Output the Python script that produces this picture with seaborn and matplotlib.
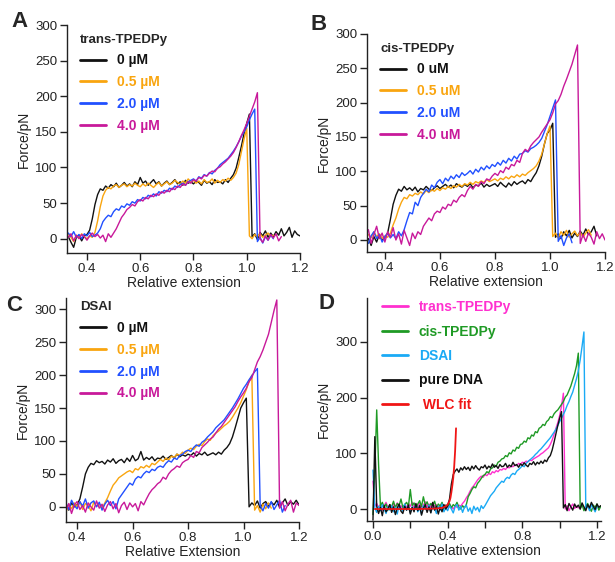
import matplotlib
matplotlib.use("Agg")
import matplotlib.pyplot as plt
import numpy as np
import seaborn as sns
from matplotlib.ticker import FormatStrFormatter, MultipleLocator

# ---- data (force in pN on a 0.01 relative-extension grid) ----
A_X = np.round(np.arange(0.33, 1.2051, 0.01), 2)
A_0UM = [3, -5, -12, 2, 5, -3, 4,
         6, 12, 28, 48, 62, 70, 68, 74, 71, 76,
         73, 78, 72, 75, 79, 74, 77, 73, 80, 76,
         86, 78, 81, 75, 79, 83, 77, 80, 74, 78,
         81, 76, 79, 83, 77, 80, 75, 82, 78, 80,
         77, 81, 79, 75, 82, 78, 80, 76, 83, 79,
         80, 77, 83, 79, 85, 90, 99, 114, 130, 148,
         162, 175, 3, 7, -1, 9, 4, 11, 2, 8,
         3, 10, 5, 14, 4, 9, 16, 2, 11, 6, 4]
A_05UM = [6, 2, -4, 5, 1, 7, 3,
          0, 4, 2, 9, 25, 45, 60, 68, 72, 70,
          74, 76, 72, 75, 77, 73, 76, 74, 78, 75,
          73, 77, 74, 78, 75, 72, 76, 79, 74, 77,
          80, 76, 78, 82, 79, 77, 81, 78, 84, 80,
          82, 78, 81, 77, 83, 79, 80, 84, 78, 82,
          79, 83, 81, 85, 82, 86, 92, 104, 122, 140,
          155, 4, 0, 6, 3, 7, 2, 5, 8, 3,
          5]
A_2UM = [8, 3, 10, 2, 6, 0, 7,
         4, 9, 3, 5, 8, 14, 24, 29, 33, 31,
         38, 42, 40, 46, 44, 49, 47, 52, 50, 55,
         53, 58, 56, 61, 59, 63, 60, 66, 64, 68,
         66, 71, 69, 74, 72, 76, 78, 75, 80, 82,
         84, 81, 87, 85, 90, 88, 93, 91, 96, 99,
         104, 107, 110, 113, 118, 123, 129, 136, 144, 150,
         157, 167, 175, 182, -4, 2, -6, 3, -2, 5,
         0]
A_4UM = [2, 7, -3, 5, 0, 6, 3,
         -2, 4, 8, 3, 6, 1, 5, -4, 7, 2,
         8, 14, 22, 30, 35, 41, 44, 48, 46, 52,
         55, 53, 58, 56, 61, 59, 63, 61, 66, 64,
         68, 66, 71, 69, 74, 72, 77, 75, 80, 78,
         83, 81, 86, 84, 89, 88, 92, 95, 94, 99,
         101, 105, 108, 112, 116, 121, 128, 136, 145, 153,
         162, 172, 182, 192, 205, 0, -5, 4, -2, 6,
         1, 7, -3, 3]

B_X = np.round(np.arange(0.34, 1.2051, 0.01), 2)
B_0UM = [2, -8, 5, -3, 8, 0,
         4, 10, 30, 52, 65, 74, 71, 78, 73, 76,
         72, 77, 70, 75, 73, 78, 74, 72, 76, 79,
         75, 78, 81, 77, 80, 76, 82, 79, 77, 81,
         78, 82, 76, 80, 79, 83, 77, 81, 78, 80,
         82, 78, 84, 80, 77, 83, 79, 85, 81, 84,
         86, 82, 88, 85, 92, 98, 108, 122, 140, 155,
         160, 170, 4, 9, 2, 12, 6, 14, 3, 10,
         5, 13, 7, 16, 8, 12, 20, 6]
B_05UM = [8, 3, 12, 5, 9, 2,
          6, 4, 10, 22, 32, 45, 55, 62, 60, 66,
          64, 68, 66, 70, 67, 72, 69, 73, 71, 75,
          72, 76, 74, 78, 75, 79, 77, 81, 78, 82,
          80, 84, 81, 85, 83, 86, 84, 88, 85, 87,
          89, 86, 90, 88, 92, 89, 93, 91, 95, 92,
          96, 94, 98, 101, 104, 108, 115, 125, 140, 155,
          166, 5, 10, 3, 12, 7, 14, 4, 9, 13,
          6, 11, 4, 10, 15, 7]
B_2UM = [-5, 6, 12, 2, 8, -3,
         5, 10, 3, 8, 2, 12, 6, 15, 28, 40,
         38, 55, 50, 62, 68, 74, 70, 80, 76, 84,
         88, 82, 90, 86, 93, 89, 95, 91, 98, 94,
         97, 101, 96, 103, 99, 106, 102, 108, 104, 110,
         107, 113, 109, 116, 112, 119, 115, 122, 118, 125,
         126, 130, 128, 133, 135, 138, 142, 148, 158, 168,
         180, 192, 204, -2, 6, -8, 3, 9, -4]
B_4UM = [15, -5, 8, 20, 2, 10,
         -3, 12, 4, 18, 0, 9, -6, 14, 3, -8,
         10, 2, 12, 8, 20, 26, 32, 28, 38, 42,
         40, 48, 45, 52, 50, 58, 55, 62, 66, 63,
         72, 78, 74, 81, 78, 85, 82, 89, 87, 93,
         97, 94, 101, 98, 106, 103, 110, 108, 116, 113,
         126, 132, 129, 137, 142, 146, 150, 157, 163, 169,
         175, 185, 198, 203, 212, 224, 234, 245, 256, 270,
         284, -5, 8, -2, 10, 4, -6, 12, 2, 9, 0]

C_X = np.round(np.arange(0.36, 1.2051, 0.01), 2)
C_0UM = [2, -5, 6, 0,
         3, 12, 30, 50, 60, 66, 64, 70, 67, 69,
         65, 71, 68, 73, 66, 70, 72, 67, 74, 69,
         78, 70, 73, 84, 71, 75, 72, 76, 70, 74,
         73, 77, 72, 75, 78, 74, 80, 76, 79, 77,
         80, 78, 82, 77, 81, 79, 83, 78, 80, 82,
         79, 83, 80, 86, 90, 96, 106, 120, 135, 150,
         158, 165, 0, 6, 2, 9, -2, 5, 8, 1,
         7, 3, 10, -1, 6, 12, 2, 8, 4, 10, 3]
C_05UM = [-8, 4, -3, 6,
          0, 8, -4, 5, 2, -6, 7, 1, 4, -2,
          6, 14, 24, 33, 38, 44, 47, 50, 53, 55,
          52, 58, 56, 61, 59, 63, 60, 66, 64, 68,
          72, 69, 74, 71, 77, 75, 80, 78, 83, 81,
          86, 89, 87, 92, 95, 93, 99, 103, 101, 108,
          112, 115, 119, 123, 126, 130, 136, 143, 150, 158,
          168, 178, 190, 200, -5, 2, -8, 4, -3, 6,
          -2]
C_2UM = [6, -4, 10, 2,
         -3, 8, 1, 12, -2, 6, 9, 0, 7, -5,
         4, 10, 2, 8, -3, 12, 18, 24, 30, 36,
         33, 42, 46, 44, 50, 54, 52, 57, 55, 60,
         62, 60, 66, 70, 68, 74, 72, 78, 80, 84,
         86, 84, 90, 94, 92, 98, 101, 106, 110, 114,
         120, 124, 128, 132, 138, 144, 150, 157, 164, 172,
         180, 186, 193, 199, 205, 210, 2, -6, 5, -2,
         8, -4, 3, 10, -8, 2]
C_4UM = [-6, 5, -10, 3,
         8, -4, 2, -8, 6, 0, -5, 9, -2, 4,
         -7, 3, 8, -3, 5, -9, 2, 7, -4, 6,
         0, 5, -6, 8, 3, 12, 20, 26, 30, 35,
         38, 45, 42, 50, 55, 58, 62, 60, 67, 70,
         72, 78, 75, 84, 82, 90, 94, 98, 103, 106,
         112, 118, 122, 128, 134, 140, 146, 152, 160, 167,
         173, 180, 190, 196, 208, 220, 228, 238, 250, 262,
         280, 298, 314, -2, 8, -6, 4, 10, -8, 6, 2]

D_X = np.round(np.arange(0.0, 1.2251, 0.01), 2)
D_TRANS = [50, 5, 10, 2, 8, -2, 6, 12, 3, 7,
           0, 9, 4, 11, 2, 6, -1, 8, 3, 10,
           5, 12, 1, 8, 4, 10, 0, 7, 13, 3,
           9, 2, 11, 5, 8, 1, 6, 10, 3, 7,
           2, 8, 4, 0, 6, 3, 7, 5, 10, 14,
           20, 25, 32, 38, 42, 47, 52, 56, 59, 57,
           62, 60, 64, 62, 67, 65, 69, 67, 71, 70,
           73, 71, 75, 74, 77, 76, 79, 78, 82, 80,
           84, 83, 86, 85, 88, 87, 90, 92, 94, 96,
           99, 101, 104, 107, 110, 116, 124, 134, 145, 155,
           168, 185, 208, 0, 6, -3, 4, 9, 1, 5,
           2]
D_CIS = [-10, 70, 178, 80, 5, 12, 3, 9, -2, 8,
         4, 14, 2, 10, 6, 18, 3, 8, 12, 5,
         35, 6, 11, 2, 9, 15, 4, 22, 7, 13,
         3, 10, 6, 14, 2, 9, 5, 12, 1, 7,
         4, 10, 2, 8, 5, 12, 3, 0, 6, 2,
         8, 22, 28, 35, 40, 38, 46, 50, 55, 60,
         62, 67, 65, 72, 74, 79, 77, 84, 86, 90,
         91, 96, 94, 101, 99, 106, 104, 111, 109, 116,
         117, 122, 120, 128, 126, 133, 131, 139, 137, 145,
         147, 152, 150, 157, 160, 166, 164, 171, 175, 178,
         183, 188, 193, 201, 205, 213, 221, 232, 243, 257,
         280, 0, 8, -3, 5, 10, 2, -4, 7, 3,
         9, -2, 5]
D_DSAI = [70, 2, -6, 5, -3, 8, 0, -8, 4, -2,
          6, -5, 3, -9, 7, 1, -4, 9, -2, 5,
          -7, 4, -1, 8, -5, 2, -9, 6, 0, -3,
          7, -6, 3, 1, -8, 5, -2, 9, -5, 2,
          -3, 6, 0, -7, 4, 8, -2, 5, -6, 3,
          7, -4, 2, -8, 5, -2, 3, -5, 6, 1,
          6, 12, 18, 24, 28, 32, 38, 42, 46, 50,
          48, 54, 57, 55, 61, 64, 62, 68, 71, 74,
          78, 76, 82, 85, 88, 91, 94, 98, 101, 105,
          108, 112, 116, 120, 124, 128, 133, 138, 143, 150,
          157, 163, 170, 177, 186, 193, 202, 210, 222, 234,
          248, 268, 292, 318, 0, 6, -3, 8, 2, -5,
          4]
D_DNA = [-20, 130, 5, -8, 3, -12, 6, -5, 0, 8,
         -6, 4, -10, 2, 9, -4, -8, 5, -2, 7,
         -9, 3, -5, 10, -3, 6, -11, 1, 8, -6,
         4, -7, 12, -2, 5, -9, 3, -5, 8, 0,
         6, 18, 45, 62, 68, 72, 66, 74, 70, 76,
         71, 75, 69, 77, 72, 78, 73, 70, 76, 74,
         79, 72, 77, 74, 81, 75, 78, 73, 80, 76,
         77, 82, 75, 79, 76, 84, 78, 80, 75, 81,
         78, 83, 79, 76, 82, 80, 85, 79, 84, 81,
         86, 82, 88, 85, 92, 96, 106, 120, 135, 150,
         163, 175, 2, 8, -3, 10, 4, -2, 9, 3,
         7, 0, 11, 4, -3, 8, 2, 12, 5, -1,
         9, 3, 6]
WLC_X = [0.01, 0.05, 0.10, 0.15, 0.20, 0.25, 0.30, 0.34, 0.37, 0.39, 0.40,
         0.41, 0.415, 0.42, 0.425, 0.43, 0.435, 0.44, 0.445]
WLC_Y = [0, 0, 0, 0, 0, 0, 0.5, 1, 2, 5, 8, 14, 20, 30, 42, 56, 76, 104, 145]

CONC_COLORS = ["#111111", "#f9a50f", "#2150ff", "#c8199a"]
MU_LABELS = ["0 \u00b5M", "0.5 \u00b5M", "2.0 \u00b5M", "4.0 \u00b5M"]
U_LABELS = ["0 uM", "0.5 uM", "2.0 uM", "4.0 uM"]
D_LABELS = ["trans-TPEDPy", "cis-TPEDPy", "DSAI", "pure DNA", " WLC fit"]
D_COLORS = ["#ff30cf", "#1f9a25", "#1aaaf5", "#111111", "#f01515"]

sns.set_theme(style="ticks")
plt.rcParams["font.family"] = ["Liberation Sans", "DejaVu Sans"]
plt.rcParams["axes.linewidth"] = 1.0
plt.rcParams["axes.edgecolor"] = "#222222"

W, H = 615, 562
fig = plt.figure(figsize=(W / 100, H / 100), dpi=100)


def px_axes(left, top, right, bottom):
    return fig.add_axes([left / W, 1 - bottom / H, (right - left) / W, (bottom - top) / H])


def style(ax, xlim, ylim, xlabel, xmajor, ymajor, xminor=None):
    ax.set_xlim(*xlim)
    ax.set_ylim(*ylim)
    ax.xaxis.set_major_locator(MultipleLocator(xmajor))
    ax.xaxis.set_major_formatter(FormatStrFormatter("%.1f"))
    ax.yaxis.set_major_locator(MultipleLocator(ymajor))
    if xminor:
        ax.xaxis.set_minor_locator(MultipleLocator(xminor))
    ax.spines[["top", "right"]].set_visible(False)
    ax.tick_params(which="both", direction="out", length=5, width=1, colors="#222222",
                   labelsize=9.5, labelcolor="#222222", pad=2)
    ax.set_xlabel(xlabel, fontsize=10, labelpad=1, color="#222222")
    ax.set_ylabel("Force/pN", fontsize=10, labelpad=3, color="#222222")


def add_legend(ax, anchor, title=None, spacing=0.56):
    leg = ax.legend(loc="upper left", bbox_to_anchor=anchor, frameon=False,
                    title=title, alignment="left",
                    title_fontproperties={"weight": "bold", "size": 9.5},
                    prop={"weight": "bold", "size": 10}, labelcolor="linecolor",
                    handlelength=1.9, handletextpad=0.75, labelspacing=spacing,
                    borderpad=0, borderaxespad=0)
    for ln in leg.get_lines():
        ln.set_linewidth(2.0)
    return leg


def conc_panel(ax, xs, curves, labels):
    for ys, col, lab in zip(curves, CONC_COLORS, labels):
        sns.lineplot(x=xs[:len(ys)], y=ys, color=col, linewidth=1.0, label=lab,
                     ax=ax, estimator=None, sort=False)


# A: trans-TPEDPy
ax_a = px_axes(67, 25, 300, 253)
conc_panel(ax_a, A_X, [A_0UM, A_05UM, A_2UM, A_4UM], MU_LABELS)
style(ax_a, (0.325, 1.2), (-20, 300), "Relative extension", 0.2, 50)
add_legend(ax_a, (0.056, 0.962), "trans-TPEDPy")

# B: cis-TPEDPy
ax_b = px_axes(367, 34, 605, 252)
conc_panel(ax_b, B_X, [B_0UM, B_05UM, B_2UM, B_4UM], U_LABELS)
style(ax_b, (0.335, 1.2), (-17.5, 300), "Relative extension", 0.2, 50)
add_legend(ax_b, (0.055, 0.96), "cis-TPEDPy")

# C: DSAI
ax_c = px_axes(66, 298, 299, 522)
conc_panel(ax_c, C_X, [C_0UM, C_05UM, C_2UM, C_4UM], MU_LABELS)
style(ax_c, (0.36, 1.2), (-23, 317), "Relative Extension", 0.2, 50)
add_legend(ax_c, (0.06, 0.985), "DSAI")

# D: comparison
ax_d = px_axes(367, 298, 601, 521)
for ys, col, lab in zip([D_TRANS, D_CIS, D_DSAI, D_DNA], D_COLORS[:4], D_LABELS[:4]):
    sns.lineplot(x=D_X[:len(ys)], y=ys, color=col, linewidth=1.0, label=lab,
                 ax=ax_d, estimator=None, sort=False)
sns.lineplot(x=WLC_X, y=WLC_Y, color=D_COLORS[4], linewidth=1.3, label=D_LABELS[4],
             ax=ax_d, estimator=None, sort=False)
style(ax_d, (-0.032, 1.2215), (-21.5, 379), "Relative extension", 0.4, 100, xminor=0.2)
add_legend(ax_d, (0.064, 0.99), None, spacing=0.75)

for lab, xp, yp in [("A", 11, 11), ("B", 311, 14), ("C", 6, 295), ("D", 319, 293)]:
    fig.text(xp / W, 1 - yp / H, lab, fontsize=16, fontweight="bold", va="top", ha="left")

fig.savefig("out.png", dpi=100)
